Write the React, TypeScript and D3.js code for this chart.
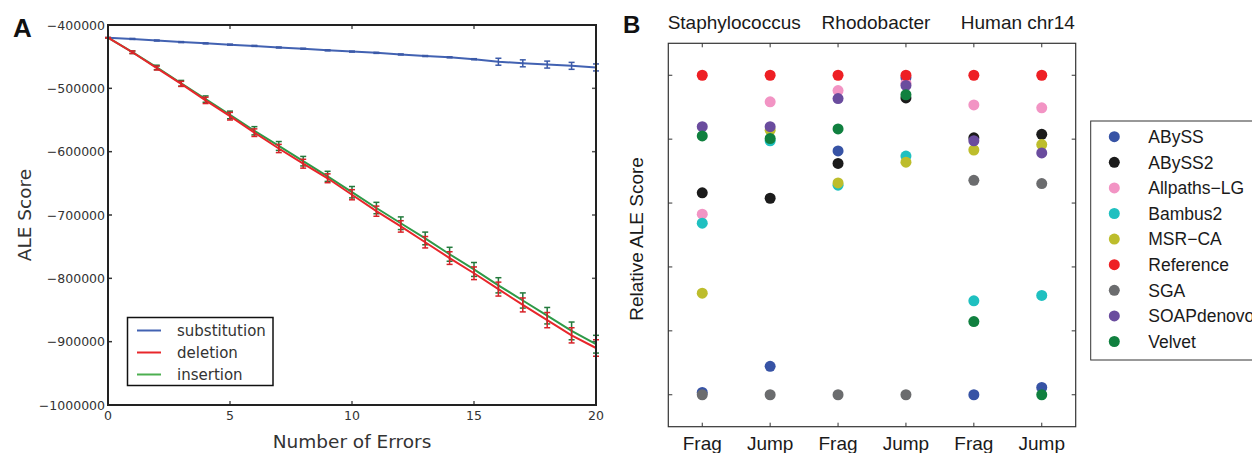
import React, { useEffect, useRef } from 'react';
import * as d3 from 'd3';

// panel A: ALE score vs number of errors
const nErrors = [0, 1, 2, 3, 4, 5, 6, 7, 8, 9, 10, 11, 12, 13, 14, 15, 16, 17, 18, 19, 20];
const substitution = [-420000, -422000, -424500, -427000, -429000, -431000, -433000, -435500, -437500, -440000, -442000, -444000, -446500, -449000, -451000, -454000, -458000, -460500, -462500, -464500, -467000];
const substitutionErr = [0, 800, 800, 800, 800, 800, 800, 800, 800, 800, 800, 800, 800, 800, 800, 800, 5500, 5500, 5500, 5500, 5500];
const deletion = [-420000, -443000, -468000, -493000, -519000, -544000, -570000, -595000, -619000, -642000, -668000, -694000, -718000, -743000, -768000, -792000, -817000, -842000, -866000, -890000, -910000];
const deletionErr = [0, 2000, 3000, 4000, 5000, 6000, 6000, 6500, 7000, 7000, 8000, 8000, 9000, 9000, 10000, 10000, 11000, 11000, 12000, 12000, 13000];
const insertion = [-420000, -443000, -467000, -492000, -517000, -542000, -567000, -591000, -615000, -639000, -664000, -689000, -713000, -737000, -762000, -786000, -811000, -835000, -859000, -883000, -904000];
const insertionErr = [0, 2000, 3500, 4500, 5000, 6000, 6500, 7000, 7500, 8000, 9000, 9000, 10000, 10000, 11000, 11000, 12000, 12000, 13000, 14000, 14000];
const yTicksA = [-400000, -500000, -600000, -700000, -800000, -900000, -1000000];
const xTicksA = [0, 5, 10, 15, 20];

// panel B: relative ALE score per assembler and library
const genomes = ['Staphylococcus', 'Rhodobacter', 'Human chr14'];
const libraries = ['Frag', 'Jump', 'Frag', 'Jump', 'Frag', 'Jump'];
const assemblers = ['ABySS', 'ABySS2', 'Allpaths\u2212LG', 'Bambus2', 'MSR\u2212CA', 'Reference', 'SGA', 'SOAPdenovo', 'Velvet'];
const ABySS = [0.007, 0.089, 0.763, 0.992, 0.0, 0.023];
const ABySS2 = [0.632, 0.615, 0.724, 0.929, 0.804, 0.815];
const AllpathsLG = [0.565, 0.917, 0.952, 0.975, 0.907, 0.898];
const Bambus2 = [0.537, 0.795, 0.656, 0.747, 0.294, 0.311];
const MSRCA = [0.318, 0.828, 0.663, 0.728, 0.766, 0.783];
const Reference = [1.0, 1.0, 1.0, 1.0, 1.0, 1.0];
const SGA = [0.0, 0.0, 0.0, 0.0, 0.671, 0.661];
const SOAPdenovo = [0.839, 0.839, 0.927, 0.968, 0.795, 0.757];
const Velvet = [0.81, 0.802, 0.832, 0.939, 0.229, 0.0];
const yTicksB = [0, 0.2, 0.4, 0.6, 0.8, 1.0];

const colorsB = ['#3753a5', '#1b1b1b', '#f294c4', '#1fc0c0', '#bdbd2c', '#ee1f24', '#6b6c6e', '#6a4c9e', '#10803f'];

const App = () => {
  const ref = useRef(null);

  useEffect(() => {
    const svg = d3.select(ref.current);
    svg.selectAll('*').remove();

    // ---------- panel A ----------
    const fA = 'DejaVu Sans';
    const x = d3.scaleLinear().domain([0, 20]).range([108, 596]);
    const y = d3.scaleLinear().domain([-1000000, -400000]).range([405, 25]);
    const a = svg.append('g');

    a.append('text').text('A').attr('x', 13).attr('y', 37)
      .attr('font-family', 'Liberation Sans').attr('font-weight', 'bold').attr('font-size', 26).attr('fill', '#111');

    // ticks (inward, all four sides)
    yTicksA.forEach(t => {
      a.append('line').attr('x1', 108).attr('x2', 112).attr('y1', y(t)).attr('y2', y(t)).attr('stroke', '#333').attr('stroke-width', 1.5);
      a.append('line').attr('x1', 596).attr('x2', 592).attr('y1', y(t)).attr('y2', y(t)).attr('stroke', '#555').attr('stroke-width', 1.5);
      a.append('text').text(String(t).replace('-', '\u2212'))
        .attr('x', 105).attr('y', y(t)).attr('dy', '0.36em').attr('text-anchor', 'end')
        .attr('font-family', fA).attr('font-size', 12.5).attr('fill', '#333');
    });
    xTicksA.forEach(t => {
      a.append('line').attr('x1', x(t)).attr('x2', x(t)).attr('y1', 405).attr('y2', 401).attr('stroke', '#555').attr('stroke-width', 1.5);
      a.append('line').attr('x1', x(t)).attr('x2', x(t)).attr('y1', 25).attr('y2', 29).attr('stroke', '#555').attr('stroke-width', 1.5);
      a.append('text').text(t).attr('x', x(t)).attr('y', 419.5).attr('text-anchor', 'middle')
        .attr('font-family', fA).attr('font-size', 12.5).attr('fill', '#333');
    });

    const line = d3.line().x((d, i) => x(nErrors[i])).y(d => y(d));
    const seriesA = [
      { name: 'substitution', vals: substitution, err: substitutionErr, color: '#4262b2', bar: '#3c5aa8' },
      { name: 'insertion', vals: insertion, err: insertionErr, color: '#2e9a48', bar: '#237a3c' },
      { name: 'deletion', vals: deletion, err: deletionErr, color: '#e8262b', bar: '#d72228' },
    ];
    seriesA.forEach(s => {
      a.append('path').datum(s.vals).attr('d', line).attr('fill', 'none').attr('stroke', s.color).attr('stroke-width', 2);
      s.vals.forEach((v, i) => {
        const cx = x(nErrors[i]);
        const y1 = y(v - s.err[i]);
        const y2 = y(v + s.err[i]);
        a.append('line').attr('x1', cx).attr('x2', cx).attr('y1', y1).attr('y2', y2).attr('stroke', s.bar).attr('stroke-width', 1.5);
        a.append('line').attr('x1', cx - 3).attr('x2', cx + 3).attr('y1', y1).attr('y2', y1).attr('stroke', s.bar).attr('stroke-width', 1.5);
        a.append('line').attr('x1', cx - 3).attr('x2', cx + 3).attr('y1', y2).attr('y2', y2).attr('stroke', s.bar).attr('stroke-width', 1.5);
      });
    });

    a.append('rect').attr('x', 108).attr('y', 25).attr('width', 488).attr('height', 380)
      .attr('fill', 'none').attr('stroke', '#222').attr('stroke-width', 2);

    // legend A
    const legA = [
      { name: 'substitution', color: '#4262b2' },
      { name: 'deletion', color: '#e8262b' },
      { name: 'insertion', color: '#4caf50' },
    ];
    a.append('rect').attr('x', 127.5).attr('y', 317.5).attr('width', 145.5).attr('height', 68)
      .attr('fill', 'white').attr('stroke', '#111').attr('stroke-width', 1.5);
    legA.forEach((l, i) => {
      const ly = 330.5 + i * 22;
      a.append('line').attr('x1', 137).attr('x2', 161).attr('y1', ly).attr('y2', ly).attr('stroke', l.color).attr('stroke-width', 2);
      a.append('text').text(l.name).attr('x', 177).attr('y', ly).attr('dy', '0.36em')
        .attr('font-family', fA).attr('font-size', 15).attr('fill', '#333');
    });

    a.append('text').text('Number of Errors').attr('x', 352).attr('y', 448).attr('text-anchor', 'middle')
      .attr('font-family', fA).attr('font-size', 18.5).attr('fill', '#333');
    a.append('text').text('ALE Score').attr('transform', 'translate(31,215) rotate(-90)').attr('text-anchor', 'middle')
      .attr('font-family', fA).attr('font-size', 18.5).attr('fill', '#333');

    // ---------- panel B ----------
    const fB = 'Liberation Sans';
    const xb = d3.scaleLinear().domain([-0.5, 5.5]).range([668.3, 1075.7]);
    const yb = d3.scaleLinear().domain([-0.1, 1.1]).range([426.7, 43.3]);
    const b = svg.append('g');

    b.append('text').text('B').attr('x', 623).attr('y', 32.5)
      .attr('font-family', fB).attr('font-weight', 'bold').attr('font-size', 24).attr('fill', '#111');

    const titleDx = [-2, 4, 10];
    genomes.forEach((g, i) => {
      b.append('text').text(g).attr('x', xb(i * 2 + 0.5) + titleDx[i]).attr('y', 28.5).attr('text-anchor', 'middle')
        .attr('font-family', fB).attr('font-size', 19).attr('fill', '#1a1a1a');
    });

    libraries.forEach((l, i) => {
      b.append('line').attr('x1', xb(i)).attr('x2', xb(i)).attr('y1', 43.3).attr('y2', 47.3).attr('stroke', '#333');
      b.append('line').attr('x1', xb(i)).attr('x2', xb(i)).attr('y1', 426.7).attr('y2', 422.7).attr('stroke', '#333');
      b.append('text').text(l).attr('x', xb(i)).attr('y', 449.5).attr('text-anchor', 'middle')
        .attr('font-family', fB).attr('font-size', 19).attr('fill', '#1a1a1a');
    });
    yTicksB.forEach(t => {
      b.append('line').attr('x1', 668.3).attr('x2', 672.3).attr('y1', yb(t)).attr('y2', yb(t)).attr('stroke', '#333');
      b.append('line').attr('x1', 1075.7).attr('x2', 1071.7).attr('y1', yb(t)).attr('y2', yb(t)).attr('stroke', '#333');
    });

    b.append('rect').attr('x', 668.3).attr('y', 43.3).attr('width', 407.4).attr('height', 383.4)
      .attr('fill', 'none').attr('stroke', '#333').attr('stroke-width', 1.2);

    const valuesB = [ABySS, ABySS2, AllpathsLG, Bambus2, MSRCA, Reference, SGA, SOAPdenovo, Velvet];
    valuesB.forEach((vals, k) => {
      b.append('g').selectAll('circle').data(vals).enter().append('circle')
        .attr('cx', (d, i) => xb(i)).attr('cy', d => yb(d)).attr('r', 5.5).attr('fill', colorsB[k]);
    });

    b.append('text').text('Relative ALE Score').attr('transform', 'translate(643,239) rotate(-90)').attr('text-anchor', 'middle')
      .attr('font-family', fB).attr('font-size', 19).attr('fill', '#1a1a1a');

    // legend B
    b.append('rect').attr('x', 1090.7).attr('y', 121).attr('width', 180).attr('height', 239)
      .attr('fill', 'white').attr('stroke', '#333').attr('stroke-width', 1);
    assemblers.forEach((n, i) => {
      const ly = 136.7 + i * 25.6;
      b.append('circle').attr('cx', 1114.3).attr('cy', ly).attr('r', 5.5).attr('fill', colorsB[i]);
      b.append('text').text(n).attr('x', 1148.3).attr('y', ly).attr('dy', '0.36em')
        .attr('font-family', fB).attr('font-size', 17.5).attr('fill', '#1a1a1a');
    });
  }, []);

  return (
    <svg ref={ref} width={1252} height={453}
      style={{ position: 'absolute', left: 0, top: 0, background: 'white' }} />
  );
};

export default App;
